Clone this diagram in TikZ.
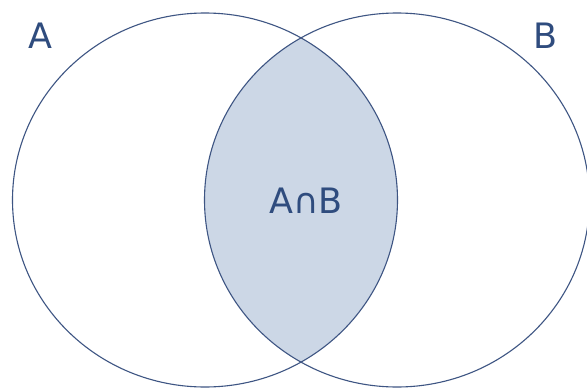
\documentclass[tikz,border=0pt]{standalone}
\usepackage{fontspec}
\setmainfont{DejaVu Sans}
\definecolor{linec}{HTML}{3E5583}
\definecolor{textc}{HTML}{2F4C7E}
\definecolor{lensc}{HTML}{CCD7E6}
\tikzset{
  setline/.style={draw=linec, line width=1.1pt},
  setlabel/.style={text=textc, font=\fontsize{35}{40}\selectfont, inner sep=0pt, anchor=base}
}
\begin{document}
\begin{tikzpicture}[x=1pt,y=-1pt]
\useasboundingbox (0,0) rectangle (587,388);
\fill[white] (0,0) rectangle (587,388);
\begin{scope}
  \clip (205,200) ellipse [x radius=192.5, y radius=187];
  \fill[lensc] (397,200) ellipse [x radius=192.5, y radius=187];
\end{scope}
\draw[setline] (205,200) ellipse [x radius=192.5, y radius=187];
\draw[setline] (397,200) ellipse [x radius=192.5, y radius=187];
\node[setlabel] (labA) at (40,48) {A};
\node[setlabel] (labB) at (546,48) {B};
\node[setlabel] (labAB) at (306,213) {A∩B};
\end{tikzpicture}
\end{document}
